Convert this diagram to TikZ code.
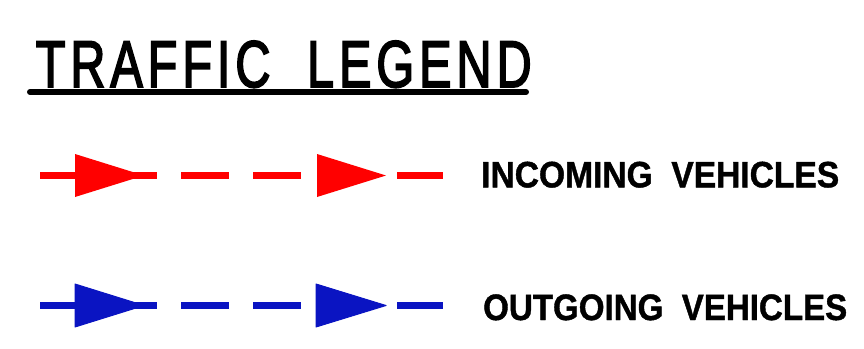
\documentclass[tikz,border=0pt]{standalone}
\usepackage{fontspec}
\setmainfont{Liberation Sans}
\newfontfamily\titlefont[FakeBold=3,LetterSpace=10]{Liberation Sans}
\newfontfamily\labelfont[FakeBold=1.2]{Liberation Sans Bold}
\usepackage{graphicx}
\definecolor{inred}{HTML}{FF0000}
\definecolor{outblue}{HTML}{0A14C2}
\begin{document}
\begin{tikzpicture}[x=1pt,y=-1pt,
  legline/.style={line width=7.5pt, dash pattern=on 48pt off 24pt, dash phase=3pt},
  legtip/.style={line width=1pt, line join=round},
  titletext/.style={anchor=base west, inner sep=0pt, font=\titlefont\fontsize{66}{66}\selectfont},
  labeltext/.style={anchor=base west, inner sep=0pt, font=\labelfont\fontsize{36.7}{37}\selectfont}]
\useasboundingbox (0,0) rectangle (864,348);
% title
\node[titletext] (title) at (35.5,87) {\resizebox{496pt}{\height}{TRAFFIC\hspace{0.75em}LEGEND}};
\coordinate (ulA) at (30,92);
\coordinate (ulB) at (526,92);
\draw[line width=6pt, line cap=round] (ulA) -- (ulB);
% incoming
\coordinate (rA) at (40,175.5);
\coordinate (rB) at (443,175.5);
\draw[legline, inred] (rA) -- (rB);
\fill[inred, legtip] (75,154) -- (144,175.5) -- (75,197) -- cycle;
\fill[inred, legtip] (317,154) -- (386,175.5) -- (317,197) -- cycle;
\node[labeltext] (inlab) at (481,187.3) {\resizebox{358pt}{\height}{INCOMING\ \ VEHICLES}};
% outgoing
\coordinate (bA) at (40,305.5);
\coordinate (bB) at (443,305.5);
\draw[legline, outblue] (bA) -- (bB);
\filldraw[outblue, legtip] (75,284) -- (144,305.5) -- (75,327) -- cycle;
\filldraw[outblue, legtip] (316,284) -- (386,305.5) -- (316,327) -- cycle;
\node[labeltext] (outlab) at (483,320) {\resizebox{364pt}{\height}{OUTGOING\ \ VEHICLES}};
\end{tikzpicture}
\end{document}
